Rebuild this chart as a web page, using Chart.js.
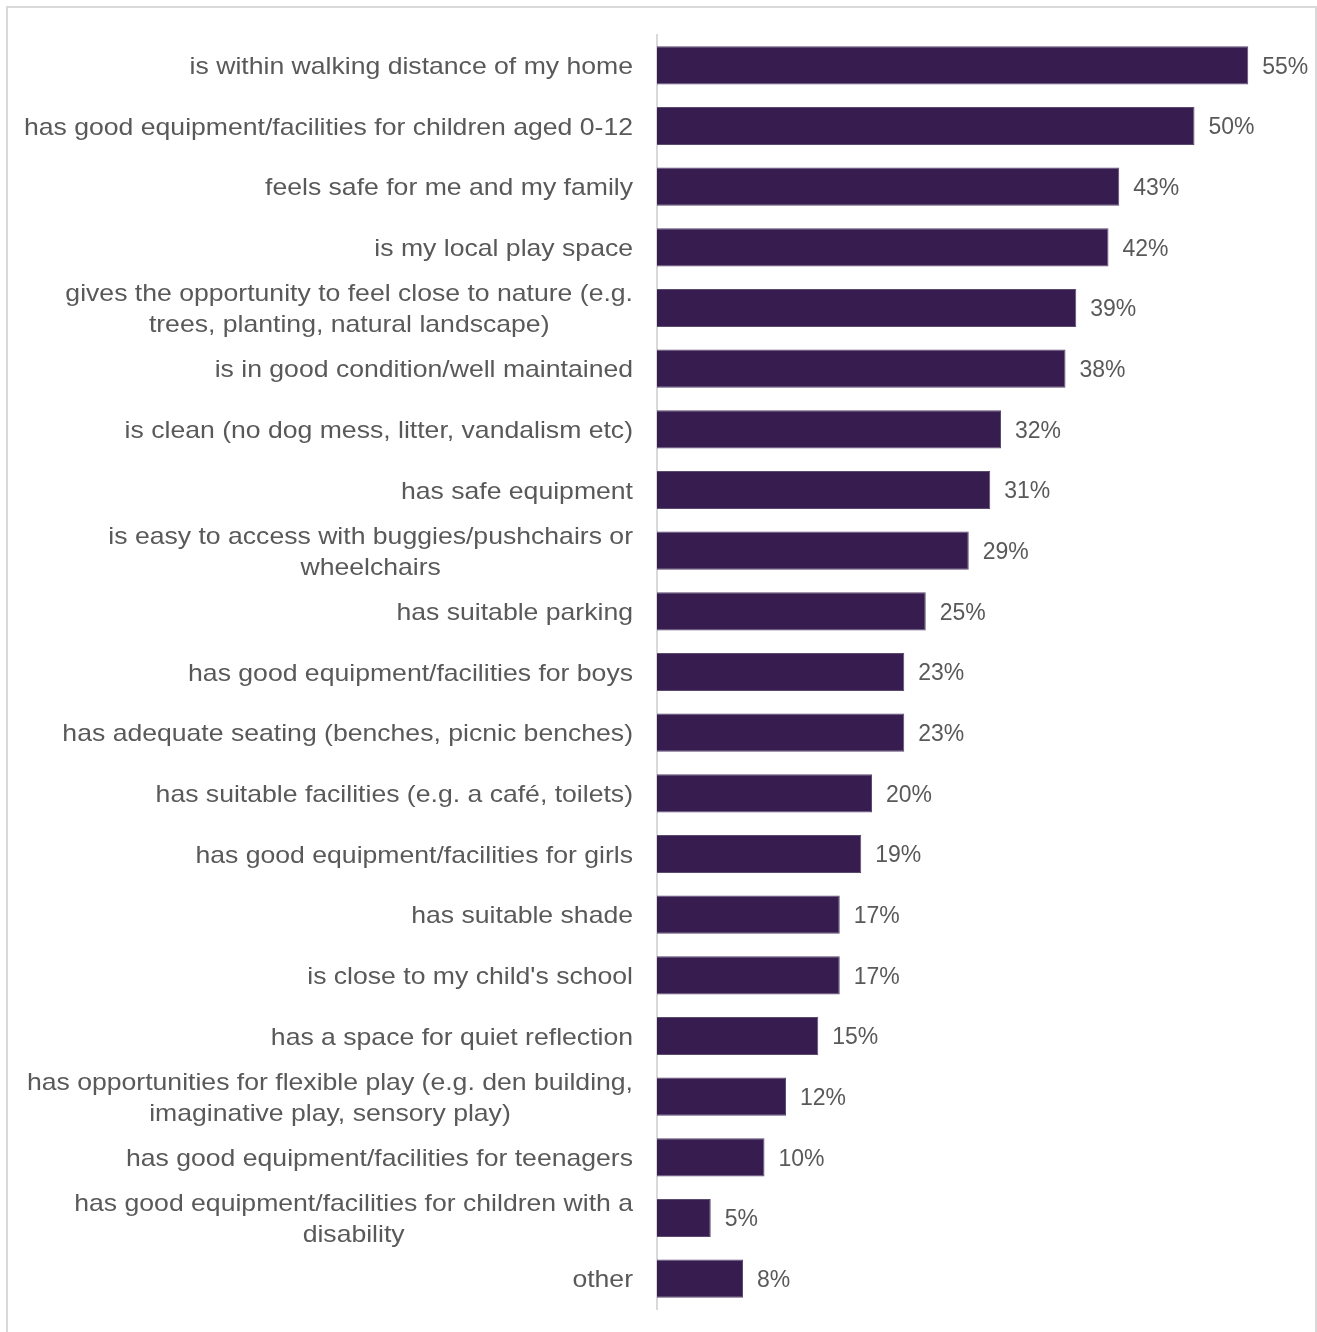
<!DOCTYPE html>
<html lang="en">
<head>
    <meta charset="UTF-8">
    <title>Play space reasons</title>
    <script src="https://cdn.jsdelivr.net/npm/chart.js"></script>
    <style>
        html, body { margin: 0; padding: 0; background: #fff; }
        .frame {
            position: absolute; left: 6px; top: 6px;
            width: 1311px; height: 1340px;
            border: 2px solid #d9d9d9; box-sizing: border-box;
        }
        .chart-box { position: absolute; left: 0; top: 0; width: 1317px; height: 1332px; }
    </style>
</head>
<body>
    <div class="frame"></div>
    <div class="chart-box"><canvas id="chart"></canvas></div>

    <script>
        // data
        const categories = [
            "is within walking distance of my home",
            "has good equipment/facilities for children aged 0-12",
            "feels safe for me and my family",
            "is my local play space",
            ["gives the opportunity to feel close to nature (e.g.", "trees, planting, natural landscape)"],
            "is in good condition/well maintained",
            "is clean (no dog mess, litter, vandalism etc)",
            "has safe equipment",
            ["is easy to access with buggies/pushchairs or", "wheelchairs"],
            "has suitable parking",
            "has good equipment/facilities for boys",
            "has adequate seating (benches, picnic benches)",
            "has suitable facilities (e.g. a café, toilets)",
            "has good equipment/facilities for girls",
            "has suitable shade",
            "is close to my child's school",
            "has a space for quiet reflection",
            ["has opportunities for flexible play (e.g. den building,", "imaginative play, sensory play)"],
            "has good equipment/facilities for teenagers",
            ["has good equipment/facilities for children with a", "disability"],
            "other"
        ];
        const values = [55, 50, 43, 42, 39, 38, 32, 31, 29, 25, 23, 23, 20, 19, 17, 17, 15, 12, 10, 5, 8];
        const xTicks = [0, 60];

        const textColor = '#595959';
        const fontFamily = 'Arial, "Liberation Sans", sans-serif';
        const stretch = 1.108; // reference labels are a little wider than plain Arial

        // category labels: block right-aligned to the axis, lines centred inside the block
        const categoryLabels = {
            id: 'categoryLabels',
            afterDraw(chart) {
                const ctx = chart.ctx;
                const y = chart.scales.y;
                const right = y.right - 24;
                ctx.save();
                ctx.font = '24px ' + fontFamily;
                ctx.fillStyle = textColor;
                ctx.textBaseline = 'middle';
                ctx.textAlign = 'center';
                categories.forEach((lab, i) => {
                    const lines = Array.isArray(lab) ? lab : [lab];
                    const w = Math.max(...lines.map(l => ctx.measureText(l).width)) * stretch;
                    const cx = right - w / 2;
                    const cy = y.getPixelForValue(i) + 2;
                    const lh = 30.5;
                    lines.forEach((l, k) => {
                        ctx.save();
                        ctx.translate(cx, cy + (k - (lines.length - 1) / 2) * lh);
                        ctx.scale(stretch, 1);
                        ctx.fillText(l, 0, 0);
                        ctx.restore();
                    });
                });
                ctx.restore();
            }
        };

        // value labels at the bar ends
        const valueLabels = {
            id: 'valueLabels',
            afterDatasetsDraw(chart) {
                const ctx = chart.ctx;
                const meta = chart.getDatasetMeta(0);
                ctx.save();
                ctx.font = '23px ' + fontFamily;
                ctx.fillStyle = textColor;
                ctx.textBaseline = 'middle';
                ctx.textAlign = 'left';
                meta.data.forEach((bar, i) => {
                    ctx.fillText(values[i] + '%', bar.x + 14, bar.y + 2);
                });
                ctx.restore();
            }
        };

        new Chart(document.getElementById('chart'), {
            type: 'bar',
            data: {
                labels: categories,
                datasets: [{
                    data: values,
                    backgroundColor: '#371c4f',
                    borderColor: '#5b4a70',
                    borderWidth: 1,
                    categoryPercentage: 1,
                    barPercentage: 0.63
                }]
            },
            options: {
                indexAxis: 'y',
                responsive: true,
                maintainAspectRatio: false,
                animation: false,
                layout: { padding: { top: 35, bottom: 23, left: 0, right: 15 } },
                plugins: {
                    legend: { display: false },
                    tooltip: { enabled: false }
                },
                scales: {
                    x: {
                        display: false,
                        min: xTicks[0],
                        max: xTicks[1]
                    },
                    y: {
                        grid: { color: 'transparent', drawTicks: false },
                        border: { display: true, color: '#d9d9d9', width: 2 },
                        ticks: { display: false },
                        afterFit(scale) { scale.width = 657; }
                    }
                }
            },
            plugins: [categoryLabels, valueLabels]
        });
    </script>
</body>
</html>
